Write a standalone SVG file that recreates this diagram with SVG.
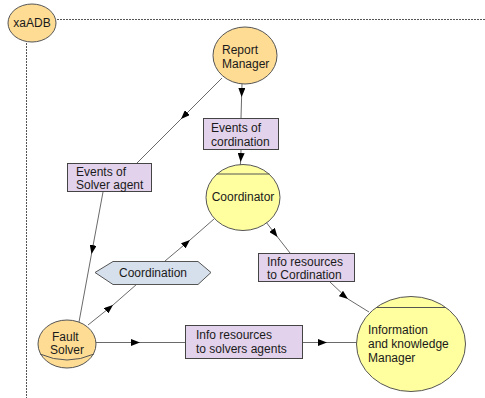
<svg xmlns="http://www.w3.org/2000/svg" width="485" height="398" viewBox="0 0 485 398">
<style>
text{font-family:"Liberation Sans",Arial,sans-serif;font-size:12px;fill:#1a1a1a}
.orange{fill:#fedc94;stroke:#555;stroke-width:1}
.yellow{fill:#ffffa0;stroke:#555;stroke-width:1}
.box{fill:#e2d2ec;stroke:#444;stroke-width:1}
.hex{fill:#d6dfec;stroke:#555;stroke-width:1}
.edge{fill:none;stroke:#6a6a6a;stroke-width:1;marker-mid:url(#arr)}
.dash{fill:none;stroke:#555;stroke-width:1;stroke-dasharray:2,1}
.mid{text-anchor:middle}
</style>
<defs>
<marker id="arr" viewBox="0 0 9 7" refX="9" refY="3.5" markerWidth="9" markerHeight="7" markerUnits="userSpaceOnUse" orient="auto">
<path d="M0,0 L9,3.5 L0,7 Z" fill="#000"/>
</marker>
</defs>
<rect width="485" height="398" fill="#fff"/>
<g id="frame">
<path class="dash" d="M57,19.5 H485"/>
<path class="dash" d="M26.5,43 V398"/>
</g>
<g id="connectors">
<path class="edge" d="M242,84 L241.6,97 L241,118"/>
<path class="edge" d="M241,150 L240.6,162 L240.3,165"/>
<path class="edge" d="M222,78 L181,119 L137,163"/>
<path class="edge" d="M103,192 L91.5,254 L79,322"/>
<path class="edge" d="M165,261 L190,240 L214,219"/>
<path class="edge" d="M88,325 L113,305 L137,284"/>
<path class="edge" d="M266,222 L277.5,237 L290,253"/>
<path class="edge" d="M330,282 L348,299 L369,312"/>
<path class="edge" d="M96,342.5 L140,342.5 L185,342.5"/>
<path class="edge" d="M303,342.5 L327,342.5 L357,342.5"/>
</g>
<g id="xaADB">
<ellipse class="orange" cx="32" cy="23" rx="24" ry="19"/>
<text class="mid" x="32" y="27">xaADB</text>
</g>
<g id="report-manager">
<ellipse class="orange" cx="245" cy="55.5" rx="32" ry="28.5"/>
<text x="222" y="54">Report</text>
<text x="222" y="68">Manager</text>
</g>
<g id="events-cordination">
<rect class="box" x="203.5" y="118.5" width="75" height="31"/>
<text x="211" y="132">Events of</text>
<text x="211" y="146">cordination</text>
</g>
<g id="events-solver">
<rect class="box" x="67.5" y="163.5" width="84" height="28"/>
<text x="76" y="176">Events of</text>
<text x="76" y="189">Solver agent</text>
</g>
<g id="coordinator">
<ellipse class="yellow" cx="243" cy="197.5" rx="37" ry="33"/>
<path d="M216.5,174 H269.5" stroke="#555" stroke-width="1"/>
<text class="mid" x="243" y="201">Coordinator</text>
</g>
<g id="coordination">
<polygon class="hex" points="95,272.5 113,261.5 198,261.5 211,272.5 198,284.5 113,284.5"/>
<text class="mid" x="153" y="277">Coordination</text>
</g>
<g id="info-cordination">
<rect class="box" x="258.5" y="253.5" width="96" height="28"/>
<text x="267" y="266">Info resources</text>
<text x="267" y="279">to Cordination</text>
</g>
<g id="fault-solver">
<ellipse class="orange" cx="67" cy="344" rx="29" ry="24"/>
<path d="M40,354 Q67,366 94,354" fill="none" stroke="#555" stroke-width="1"/>
<text x="52" y="341">Fault</text>
<text x="50" y="354">Solver</text>
</g>
<g id="info-solvers">
<rect class="box" x="185.5" y="325.5" width="117" height="33"/>
<text x="196" y="339">Info resources</text>
<text x="196" y="353">to solvers agents</text>
</g>
<g id="info-manager">
<ellipse class="yellow" cx="411" cy="344" rx="54.5" ry="47.5"/>
<path d="M376,307.5 H446" stroke="#555" stroke-width="1"/>
<text x="368" y="334">Information</text>
<text x="368" y="348">and knowledge</text>
<text x="368" y="362">Manager</text>
</g>
</svg>
